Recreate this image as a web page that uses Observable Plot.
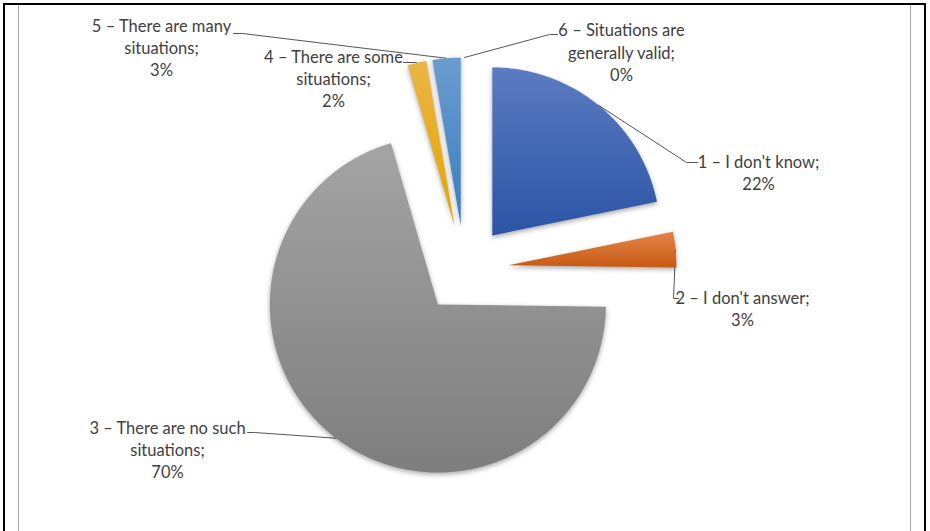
<!DOCTYPE html>
<html>
<head>
<meta charset="utf-8">
<script src="https://cdn.jsdelivr.net/npm/d3@7"></script>
<script src="https://cdn.jsdelivr.net/npm/@observablehq/plot@0.6"></script>
<style>
  html, body { margin: 0; padding: 0; background: #fff; }
  #wrap { position: relative; width: 930px; height: 531px; overflow: hidden; }
  #frame { position: absolute; left: 0; top: 0; width: 930px; height: 531px; pointer-events: none; }
  #frame div { position: absolute; }
  .slice path { filter: drop-shadow(0px 2px 2.5px rgba(0,0,0,0.35)); }
</style>
</head>
<body>
<div id="wrap">
  <div id="chart"></div>
  <div id="frame">
    <div style="left:3px;top:3px;width:923px;height:2px;background:#000"></div>
    <div style="left:3px;top:3px;width:2px;height:528px;background:#000"></div>
    <div style="left:924px;top:3px;width:2px;height:528px;background:#000"></div>
    <div style="left:18px;top:5px;width:1px;height:526px;background:#a6a6a6"></div>
    <div style="left:910px;top:5px;width:1px;height:526px;background:#a6a6a6"></div>
  </div>
</div>
<script>
// ---- data ----
const categories = ["1", "2", "3", "4", "5", "6"];
const labelLines = [
  ["1 – I don't know;"],
  ["2 – I don't answer;"],
  ["3 – There are no such", "situations;"],
  ["4 – There are some", "situations;"],
  ["5 – There are many", "situations;"],
  ["6 – Situations are", "generally valid;"]
];
const values = [21.8, 3.4, 70.3, 1.8, 2.7, 0];

// ---- styles / layout ----
const baseColors = ["#4472c4", "#ed7d31", "#a5a5a5", "#ffc000", "#5b9bd5", "#70ad47"];
const gradTop = ["#5b7bc2", "#e4844a", "#a4a4a4", "#ebb546", "#6a9ccf", "#8cc063"];
const gradBot = ["#2b54a5", "#c75a12", "#7e7e7e", "#e3a600", "#3a7dc0", "#5f9a3a"];
const cx = 464, cy = 269, R = 168, explode = 44;
const labelPos = [[758, 171], [742, 307.5], [167, 448.5], [333, 77.5], [161, 46.5], [621, 51]];
const leaderStub = [
  [[697, 162], [686, 162]],
  [[678, 298], [673, 298]],
  [[247, 432], [254, 432]],
  [[403, 62], [415, 62]],
  [[233, 33], [242, 33]],
  [[557, 34], [549, 34]]
];

const arcs = d3.pie().sort(null).value(d => d)(values);

const slicePts = arcs.map(() => []);
const leaderPts = [];
arcs.forEach((a, i) => {
  const mid = (a.startAngle + a.endAngle) / 2;
  const ox = cx + explode * Math.sin(mid), oy = cy - explode * Math.cos(mid);
  if (a.endAngle - a.startAngle > 0) {
    slicePts[i].push({cat: i, x: ox, y: oy});
    const n = Math.max(2, Math.ceil((a.endAngle - a.startAngle) / 0.01));
    for (let k = 0; k <= n; k++) {
      const t = a.startAngle + (a.endAngle - a.startAngle) * k / n;
      slicePts[i].push({cat: i, x: ox + R * Math.sin(t), y: oy - R * Math.cos(t)});
    }
  }
  const [p0, p1] = leaderStub[i];
  leaderPts.push({cat: i, x: p0[0], y: p0[1]});
  leaderPts.push({cat: i, x: p1[0], y: p1[1]});
  leaderPts.push({cat: i, x: ox + R * Math.sin(mid), y: oy - R * Math.cos(mid)});
});

const labels = values.map((v, i) => ({
  cat: categories[i],
  x: labelPos[i][0],
  y: labelPos[i][1],
  text: labelLines[i].join("\n") + "\n" + Math.round(v) + "%"
}));

const drawn = slicePts.filter(p => p.length);

const chart = Plot.plot({
  width: 930,
  height: 531,
  margin: 0,
  x: {axis: null, domain: [0, 930], range: [0, 930]},
  y: {axis: null, domain: [0, 531], range: [0, 531]},
  marks: [
    Plot.line(leaderPts, {x: "x", y: "y", z: "cat", stroke: "#555555", strokeWidth: 1}),
    ...drawn.map(p =>
      Plot.line(p, {x: "x", y: "y", fill: baseColors[p[0].cat], stroke: baseColors[p[0].cat], strokeWidth: 0.5, curve: "linear-closed"})
    ),
    Plot.text(labels, {x: "x", y: "y", text: "text", fontSize: 16.5, lineHeight: 1.35, fill: "#404040", fontFamily: "Lato", textAnchor: "middle"})
  ]
});

// gradient fills + shadow (style post-processing)
const svg = d3.select(chart);
const defs = svg.insert("defs", ":first-child");
gradTop.forEach((c, i) => {
  const g = defs.append("linearGradient").attr("id", "pieGrad" + i)
    .attr("x1", 0).attr("y1", 0).attr("x2", 0).attr("y2", 1);
  g.append("stop").attr("offset", "0%").attr("stop-color", c);
  g.append("stop").attr("offset", "100%").attr("stop-color", gradBot[i]);
});
const lineGroups = svg.selectAll('g[aria-label="line"]').nodes();
drawn.forEach((p, j) => {
  const i = p[0].cat;
  const g = lineGroups[j + 1];
  if (g) d3.select(g).classed("slice", true)
    .attr("fill", `url(#pieGrad${i}) ${baseColors[i]}`)
    .attr("stroke", "none");
});
document.getElementById("chart").appendChild(chart);
</script>
</body>
</html>
